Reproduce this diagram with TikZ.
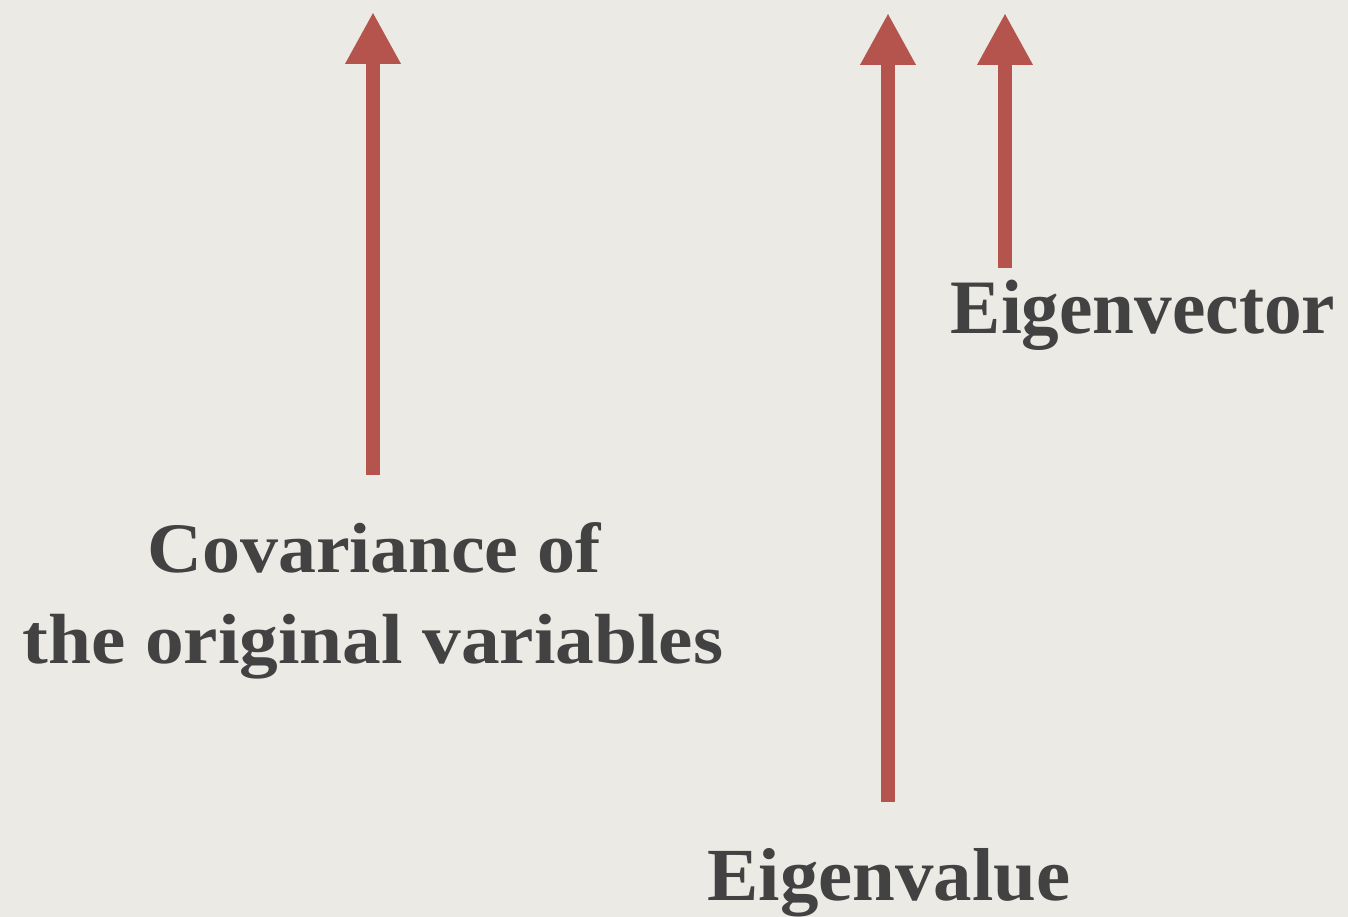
\documentclass[tikz,border=0pt]{standalone}
\usepackage{fontspec}
\setmainfont{Liberation Serif}
\usetikzlibrary{arrows.meta}
\definecolor{bg}{HTML}{ECEAE5}
\definecolor{arrowred}{HTML}{B5544C}
\definecolor{txt}{HTML}{424242}
\tikzset{
  redarrow/.style={draw=arrowred, line width=14pt, line cap=butt,
    -{Triangle[width=52pt,length=52pt]}},
  lbl/.style={text=txt, inner sep=0pt, anchor=base},
}
\begin{document}
\begin{tikzpicture}[x=1pt,y=-1pt]
\fill[bg] (0,0) rectangle (1348,917);
\useasboundingbox (0,0) rectangle (1348,917);
\coordinate (a1s) at (373,475);
\coordinate (a1e) at (373,12);
\coordinate (a2s) at (888,802);
\coordinate (a2e) at (888,13);
\coordinate (a3s) at (1005,268);
\coordinate (a3e) at (1005,13);
\draw[redarrow] (a1s) -- (a1e);
\draw[redarrow] (a2s) -- (a2e);
\draw[redarrow] (a3s) -- (a3e);
\node[lbl, xscale=1.07, font=\bfseries\fontsize{71}{85}\selectfont] (cov1) at (374,572) {Covariance of};
\node[lbl, xscale=1.09, font=\bfseries\fontsize{71}{85}\selectfont] (cov2) at (373,663) {the original variables};
\node[lbl, xscale=0.977, font=\bfseries\fontsize{77}{90}\selectfont] (evec) at (1143,333) {Eigenvector};
\node[lbl, xscale=1.025, font=\bfseries\fontsize{75}{90}\selectfont] (eval) at (889,900) {Eigenvalue};
\end{tikzpicture}
\end{document}
